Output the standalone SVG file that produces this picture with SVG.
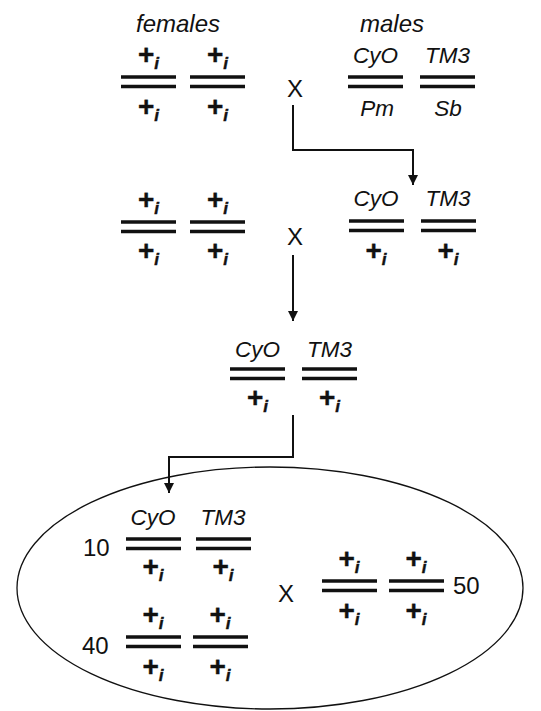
<svg xmlns="http://www.w3.org/2000/svg" xmlns:xlink="http://www.w3.org/1999/xlink" width="541" height="711" viewBox="0 0 541 711">
<style>
text{font-family:"Liberation Sans",Arial,sans-serif;fill:#111}
.lab{font-size:24px;font-style:italic;text-anchor:middle}
.g{font-size:22.5px;font-style:italic;text-anchor:middle}
.p{font-size:28px;font-weight:bold;text-anchor:middle;stroke:#111;stroke-width:0.4}
.i{font-size:17px;font-weight:bold;font-style:italic}
.x{font-size:24px;text-anchor:middle}
.n{font-size:24px}
.bar{stroke:#111;stroke-width:3.5;fill:none}
.con{stroke:#111;stroke-width:2;fill:none}
</style>
<defs>
<g id="pair"><line class="bar" x1="0" y1="0" x2="55" y2="0"/><line class="bar" x1="0" y1="9.5" x2="55" y2="9.5"/></g>
<marker id="ah" viewBox="0 0 10 10" refX="10" refY="5" markerWidth="5" markerHeight="5" orient="auto" markerUnits="strokeWidth"><path d="M0,0 L10,5 L0,10 z" fill="#111"/></marker>
</defs>
<rect width="541" height="711" fill="#fff"/>

<g id="connectors">
<polyline class="con" points="293,105 293,150 413,150 413,185" marker-end="url(#ah)"/>
<polyline class="con" points="293,255 293,321" marker-end="url(#ah)"/>
<polyline class="con" points="293,415 293,457 169,457 169,493" marker-end="url(#ah)"/>
</g>

<g id="labels">
<text class="lab" x="178" y="32">females</text>
<text class="lab" x="392" y="32">males</text>
</g>

<g id="row1-female1"><use xlink:href="#pair" x="121" y="77"/><text class="p" x="148.5" y="64">+<tspan class="i" dy="5">i</tspan></text><text class="p" x="148.5" y="116">+<tspan class="i" dy="5">i</tspan></text></g>
<g id="row1-female2"><use xlink:href="#pair" x="190" y="77"/><text class="p" x="217.5" y="64">+<tspan class="i" dy="5">i</tspan></text><text class="p" x="217.5" y="116">+<tspan class="i" dy="5">i</tspan></text></g>
<g id="row1-x"><text class="x" x="295" y="97">X</text></g>
<g id="row1-male1"><use xlink:href="#pair" x="348" y="77"/><text class="g" x="375.5" y="63">CyO</text><text class="g" x="377" y="116">Pm</text></g>
<g id="row1-male2"><use xlink:href="#pair" x="420" y="77"/><text class="g" x="447.5" y="63">TM3</text><text class="g" x="448" y="116">Sb</text></g>

<g id="row2-female1"><use xlink:href="#pair" x="121" y="222"/><text class="p" x="148.5" y="209">+<tspan class="i" dy="5">i</tspan></text><text class="p" x="148.5" y="260">+<tspan class="i" dy="5">i</tspan></text></g>
<g id="row2-female2"><use xlink:href="#pair" x="190" y="222"/><text class="p" x="217.5" y="209">+<tspan class="i" dy="5">i</tspan></text><text class="p" x="217.5" y="260">+<tspan class="i" dy="5">i</tspan></text></g>
<g id="row2-x"><text class="x" x="295" y="245">X</text></g>
<g id="row2-male1"><use xlink:href="#pair" x="349" y="221"/><text class="g" x="376" y="206">CyO</text><text class="p" x="376" y="260">+<tspan class="i" dy="5">i</tspan></text></g>
<g id="row2-male2"><use xlink:href="#pair" x="421" y="221"/><text class="g" x="448" y="206">TM3</text><text class="p" x="448" y="260">+<tspan class="i" dy="5">i</tspan></text></g>

<g id="row3-1"><use xlink:href="#pair" x="230" y="369"/><text class="g" x="257.5" y="357">CyO</text><text class="p" x="257.5" y="407">+<tspan class="i" dy="5">i</tspan></text></g>
<g id="row3-2"><use xlink:href="#pair" x="302" y="369"/><text class="g" x="329.5" y="357">TM3</text><text class="p" x="329.5" y="407">+<tspan class="i" dy="5">i</tspan></text></g>

<g id="cage">
<ellipse cx="270" cy="588" rx="253" ry="121" fill="none" stroke="#111" stroke-width="1.3"/>
</g>
<g id="cage-10"><text class="n" x="83" y="556">10</text>
<use xlink:href="#pair" x="126" y="539"/><text class="g" x="153" y="525">CyO</text><text class="p" x="153" y="576">+<tspan class="i" dy="5">i</tspan></text>
<use xlink:href="#pair" x="196" y="539"/><text class="g" x="223" y="525">TM3</text><text class="p" x="223" y="576">+<tspan class="i" dy="5">i</tspan></text></g>
<g id="cage-40"><text class="n" x="82" y="654">40</text>
<use xlink:href="#pair" x="126" y="637"/><text class="p" x="153" y="624">+<tspan class="i" dy="5">i</tspan></text><text class="p" x="153" y="676">+<tspan class="i" dy="5">i</tspan></text>
<use xlink:href="#pair" x="193" y="637"/><text class="p" x="220" y="624">+<tspan class="i" dy="5">i</tspan></text><text class="p" x="220" y="676">+<tspan class="i" dy="5">i</tspan></text></g>
<g id="cage-x"><text class="x" x="286" y="602">X</text></g>
<g id="cage-50">
<use xlink:href="#pair" x="322" y="581"/><text class="p" x="349" y="568">+<tspan class="i" dy="5">i</tspan></text><text class="p" x="349" y="620">+<tspan class="i" dy="5">i</tspan></text>
<use xlink:href="#pair" x="389" y="581"/><text class="p" x="416" y="568">+<tspan class="i" dy="5">i</tspan></text><text class="p" x="416" y="620">+<tspan class="i" dy="5">i</tspan></text>
<text class="n" x="453" y="594">50</text></g>
</svg>
